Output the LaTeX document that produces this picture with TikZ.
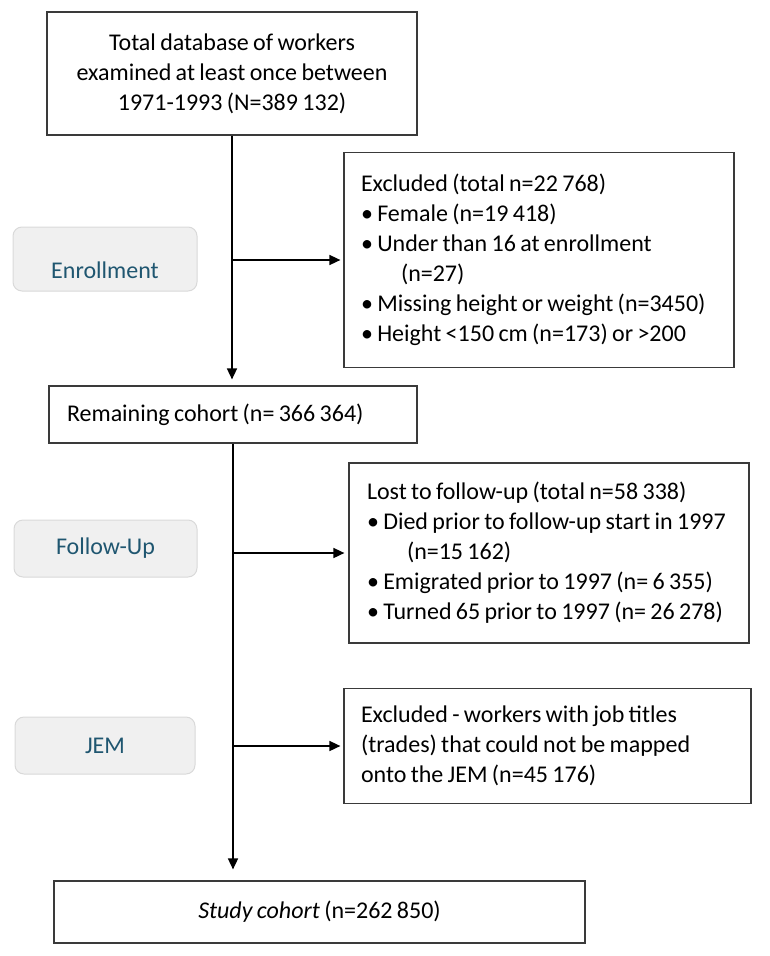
\documentclass[tikz,border=0pt]{standalone}
\usepackage{fontspec}
\setmainfont{Carlito}[WordSpace=0.8]
\usetikzlibrary{arrows.meta}
\definecolor{lblfill}{HTML}{F0F0F0}
\definecolor{lbldraw}{HTML}{D9D9D9}
\definecolor{lbltext}{HTML}{1F5670}
\definecolor{boxdraw}{HTML}{3A3A3A}
\newcommand{\boxtext}[2]{\parbox{#1}{\raggedright #2}}
\begin{document}
\begin{tikzpicture}[x=1pt,y=-1pt,
  box/.style={draw=boxdraw, line width=1.2pt, rectangle, inner sep=0pt, font=\fontsize{24}{30}\selectfont},
  lbl/.style={draw=lbldraw, fill=lblfill, line width=1pt, rounded corners=9pt, inner sep=0pt, text=lbltext, font=\fontsize{24}{30}\selectfont},
  arr/.style={line width=1.6pt, -{Triangle[length=11pt,width=10pt]}}
]
\useasboundingbox (0,0) rectangle (769,956);
% main boxes
\node[box, minimum width=370pt, minimum height=123pt, align=center] (top) at (232,73.5)
  {Total database of workers\\examined at least once between\\1971-1993 (N=389 132)};
\node[box, minimum width=390pt, minimum height=215pt] (excl) at (539,260)
  {\boxtext{356pt}{Excluded (total n=22 768)\\
   • Female (n=19 418)\\
   • Under than 16 at enrollment\\
   \hspace*{40pt}(n=27)\\
   • Missing height or weight (n=3450)\\
   • Height <150 cm (n=173) or >200}};
\node[box, minimum width=368pt, minimum height=57pt] (rem) at (233,414.5)
  {\boxtext{332pt}{Remaining cohort (n= 366 364)}};
\node[box, minimum width=400pt, minimum height=180pt] (lost) at (549,553)
  {\boxtext{364pt}{Lost to follow-up (total n=58 338)\\
   • Died prior to follow-up start in 1997\\
   \hspace*{40pt}(n=15 162)\\
   • Emigrated prior to 1997 (n= 6 355)\\
   • Turned 65 prior to 1997 (n= 26 278)}};
\node[box, minimum width=407pt, minimum height=115pt] (jem) at (547.5,746)
  {\boxtext{373pt}{Excluded - workers with job titles\\(trades) that could not be mapped\\onto the JEM (n=45 176)}};
\node[box, minimum width=531pt, minimum height=62pt, align=center] (study) at (319.5,912)
  {\textit{Study cohort} (n=262 850)};
% stage labels
\node[lbl, minimum width=184pt, minimum height=64pt] (lenr) at (105,259)
  {\raisebox{-11pt}[\height][\depth]{Enrollment}};
\node[lbl, minimum width=183pt, minimum height=57pt] (lfol) at (105.5,548.5) {Follow-Up};
\node[lbl, minimum width=180pt, minimum height=57pt] (ljem) at (105,745.5) {JEM};
% connectors
\coordinate (j1) at (top.south |- excl.west);
\coordinate (j2) at (rem.south |- lost.west);
\coordinate (j3) at (rem.south |- jem.west);
\draw[arr, shorten >=6pt] (top.south) -- (top.south |- rem.north);
\draw[arr, shorten >=11pt] (rem.south) -- (rem.south |- study.north);
\draw[arr, shorten >=3pt] (j1) -- (excl.west);
\draw[arr, shorten >=4pt] (j2) -- (lost.west);
\draw[arr, shorten >=3pt] (j3) -- (jem.west);
\end{tikzpicture}
\end{document}
